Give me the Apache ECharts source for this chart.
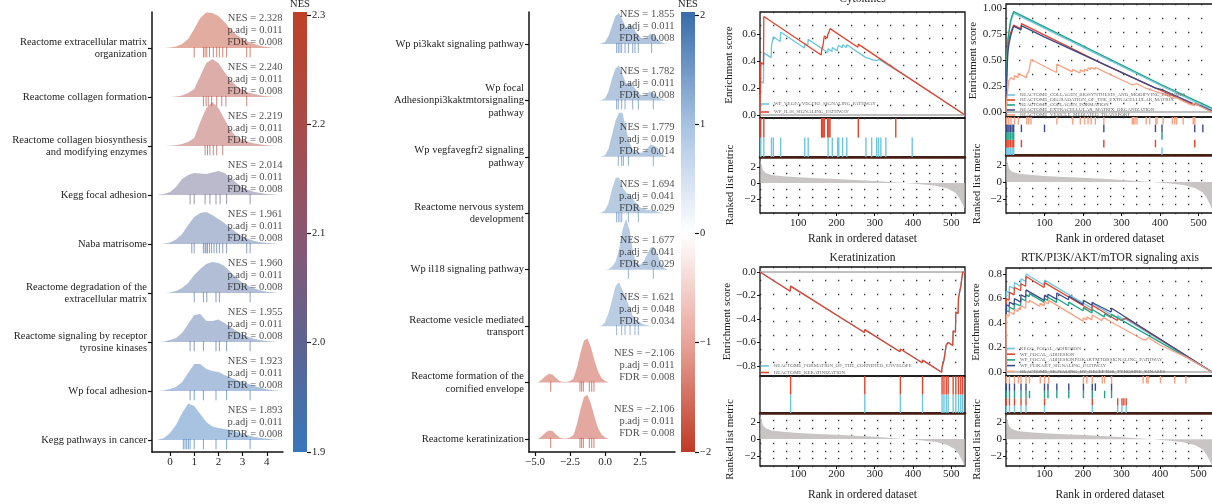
<!DOCTYPE html>
<html><head><meta charset="utf-8">
<script src="https://cdn.jsdelivr.net/npm/echarts@6.0.0/dist/echarts.min.js"></script>
<style>html,body{margin:0;padding:0;background:#fff}#c{width:1212px;height:504px}</style>
</head><body><div id="c"></div>
<script>
// ================= DATA =================
// ---- Panel A (ridge plot) ----
const catsA = ["Reactome extracellular matrix\norganization","Reactome collagen formation","Reactome collagen biosynthesis\nand modifying enzymes","Kegg focal adhesion","Naba matrisome","Reactome degradation of the\nextracellular matrix","Reactome signaling by receptor\ntyrosine kinases","Wp focal adhesion","Kegg pathways in cancer"];
const nesA  = [2.328,2.240,2.219,2.014,1.961,1.960,1.955,1.923,1.893];
const padjA = [0.011,0.011,0.011,0.011,0.011,0.011,0.011,0.011,0.011];
const fdrA  = [0.008,0.008,0.008,0.008,0.008,0.008,0.008,0.008,0.008];
const ridgeXA = [-0.5,-0.25,0,0.25,0.5,0.75,1,1.25,1.5,1.75,2,2.25,2.5,2.75,3,3.25,3.5,3.75,4,4.25,4.5];
const densA1 = [0,0,0.5,1.5,4,9,19,30,35.5,35,32,26,19,13,9,6,4,2,1,0.3,0];
const densA2 = [0,0,0,0.5,1.5,4,8,21,34,38,34,25,17,11,7,4.5,3,1.5,0.8,0.3,0];
const densA3 = [0,0,0.3,0.8,2,4,8,24,38,44,38,27,16,9,6,4,2.5,1.5,0.8,0.3,0];
const densA4 = [0.3,1,3,8,16,20,22,21.5,21,22.5,24,22,17,12,7.5,5,3,2,1,0.5,0.1];
const densA5 = [0,0.3,1.5,4.5,10,19,27,31,32,29,25,21,16,11.5,7.5,5,3,1.8,1,0.4,0];
const densA6 = [0,0,0.5,2,5,10,18,24,29,31,30,27,21,15,10,7,4.5,2.5,1.2,0.5,0];
const densA7 = [0,0.5,2,4,9,18,27,28,21,21,22.5,19,15,11,7.5,5,3,1.8,1,0.4,0];
const densA8 = [0,0.5,2,4,9,18,27,27,22,20,19,16,13.5,11,9,7,5,3,1.8,0.8,0.2];
const densA9 = [0.3,2,7,15,27,36.5,34,26,18,13.5,12,11,10,8,6,4.5,3,2,1.2,0.5,0.1];
const rugA1 = [1.0,1.38,1.45,1.52,1.63,1.79,1.93,2.04,2.18,2.34,3.17,3.31];
const rugA2 = [1.38,1.49,1.58,1.72,1.93,2.14,2.31,3.17];
const rugA3 = [1.45,1.55,1.65,1.79,1.93,2.18];
const rugA4 = [0.83,1.0,1.45,1.65,1.90,2.07,2.34,3.31];
const rugA5 = [0.9,1.0,1.38,1.45,1.49,1.55,1.63,1.72,1.82,1.93,2.04,2.18,2.34,3.17,3.31];
const rugA6 = [1.0,1.38,1.52,1.90,2.04,3.31];
const rugA7 = [0.83,1.0,1.38,1.90,2.04,2.34,3.31];
const rugA8 = [0.83,1.0,1.38,1.90,2.34,3.31];
const rugA9 = [0.55,0.62,0.69,0.76,0.83,1.0,1.38,1.90,2.34,3.31];
const xTicksA = [0,1,2,3,4];
const cbA_vals = [1.9,2.0,2.1,2.2,2.3];
const cbA_cols = ['#3877bb','#5d6391','#8a5670','#a84b49','#bf4128'];

// ---- Panel B (ridge plot) ----
const catsB = ["Wp pi3kakt signaling pathway","Wp focal\nAdhesionpi3kaktmtorsignaling\npathway","Wp vegfavegfr2 signaling\npathway","Reactome nervous system\ndevelopment","Wp il18 signaling pathway","Reactome vesicle mediated\ntransport","Reactome formation of the\ncornified envelope","Reactome keratinization"];
const nesB  = [1.855,1.782,1.779,1.694,1.677,1.621,-2.106,-2.106];
const padjB = [0.011,0.011,0.019,0.041,0.041,0.048,0.011,0.011];
const fdrB  = [0.008,0.008,0.014,0.029,0.029,0.034,0.008,0.008];
const ridgeXBblue = [-0.5,-0.25,0,0.25,0.5,0.75,1,1.25,1.5,1.75,2,2.25,2.5,2.75,3,3.25,3.5,3.75,4,4.25,4.5];
const ridgeXBred = [-5,-4.75,-4.5,-4.25,-4,-3.75,-3.5,-3.25,-3,-2.75,-2.5,-2.25,-2,-1.75,-1.5,-1.25,-1,-0.75,-0.5,-0.25,0,0.25];
const densB1 = [0,0.5,2,8,18,28,31,24,16,20,17,11,7,5,7,10.5,9,5,2,0.5,0];
const densB2 = [0,0.5,2,9,22,32,35,26,17,18,15,10,6,5,7,9,7,4,1.5,0.4,0];
const densB3 = [0,0.3,1.5,8,22,36,44,44,28,14,7,4.5,4,4.5,8,12,11,9,4,1,0];
const densB4 = [0,0.5,3,10,24,35,36,26,21,18,14,10,6,4.5,3.5,3,2.5,1.5,0.5,0.1,0];
const densB5 = [0,0,0,0.5,3,8,20,40,51,40,18,7,5,8,15,22,23,15,6,1.5,0];
const densB6 = [0,0.5,4,13,26,40,44,36,28,19,10,6,4,2,0.8,0.2,0,0,0,0,0];
const densB7 = [0,0.3,3,6.5,8.5,8,4.5,1.5,0.5,0.5,1.5,4,15,30,42,44,35,22,11,4.5,1.5,0.3];
const densB8 = [0,0.3,3,6.5,8.5,8,4.5,1.5,0.5,0.5,1.5,4,15,30,42,44,35,22,11,4.5,1.5,0.3];
const rugB1 = [0.83,0.95,1.07,1.19,1.43,1.67,1.98,2.14,2.38,3.33];
const rugB2 = [0.83,0.95,1.19,1.43,1.98,2.38,3.45];
const rugB3 = [0.95,1.19,1.31,1.67,3.45];
const rugB4 = [0.83,0.95,1.07,1.19,1.67,2.38];
const rugB5 = [1.67,3.45];
const rugB6 = [0.83,1.19,1.43,1.79,2.14,2.38];
const rugB7 = [-3.88,-1.79,-1.67,-1.55,-1.12,-0.95,-0.79];
const rugB8 = [-3.88,-1.79,-1.67,-1.55,-1.12,-0.95,-0.79];
const xTicksB = [-5,-2.5,0,2.5];
const cbB_vals = [-2,-1,0,1,2];
const cbB_cols = ['#bf3a26','#e8a398','#ffffff','#a7c2e2','#3a6eaa'];

// ---- GSEA shared ranked list metric ----
const rankX      = [1,3,8,15,30,60,100,150,200,250,300,350,380,420,460,490,510,520,528,535];
const rankMetric = [3.0,2.4,1.6,1.25,1.0,0.85,0.72,0.6,0.5,0.38,0.25,0.1,0.0,-0.15,-0.35,-0.7,-1.2,-1.8,-2.5,-3.2];
const rankTicks = [100,200,300,400,500];

// ---- Panel C: Cytokines ----
const esC_vegfa = [[0,0],[2,0.25],[9,0.235],[10,0.46],[29,0.425],[30,0.51],[34,0.5],[35,0.58],[53,0.545],[54,0.615],[116,0.497],[117,0.53],[125,0.515],[126,0.56],[177,0.463],[178,0.49],[188,0.47],[189,0.5],[202,0.475],[203,0.5],[205,0.495],[206,0.515],[215,0.498],[216,0.52],[226,0.5],[227,0.52],[276,0.427],[277,0.44],[291,0.413],[292,0.425],[304,0.402],[305,0.41],[309,0.402],[310,0.41],[315,0.4],[316,0.405],[328,0.382],[329,0.39],[397,0.261],[398,0.268],[536,0]];
const esC_il18 = [[0,0],[2,0.39],[9,0.375],[10,0.73],[160,0.445],[161,0.475],[162,0.473],[163,0.5],[164,0.498],[165,0.52],[167,0.516],[168,0.585],[176,0.57],[177,0.595],[179,0.59],[180,0.61],[182,0.606],[183,0.64],[256,0.502],[257,0.525],[354,0.34],[355,0.35],[536,0]];
const hitsC_vegfa = [2,10,30,35,54,117,126,178,189,203,206,216,227,277,292,305,310,316,329,398];
const hitsC_il18 = [2,10,161,163,165,168,177,180,183,257,355];

// ---- Panel D: extracellular matrix ----
const esD_biosyn = [[0,0],[2,0.43],[5,0.68],[8,0.765],[12,0.865],[16,0.91],[20,0.95],[404,0.25],[405,0.265],[535,0.02]];
const esD_degr = [[0,0],[2,0.45],[5,0.62],[8,0.7],[12,0.76],[16,0.8],[20,0.835],[39,0.8],[40,0.85],[253,0.46],[254,0.475],[387,0.232],[388,0.25],[489,0.065],[490,0.085],[535,0]];
const esD_form = [[0,0],[2,0.45],[5,0.7],[8,0.78],[12,0.88],[16,0.925],[20,0.965],[404,0.262],[405,0.28],[535,0.035]];
const esD_ecm = [[0,0],[2,0.35],[5,0.58],[8,0.66],[12,0.73],[16,0.78],[20,0.825],[39,0.79],[40,0.83],[99,0.722],[100,0.74],[253,0.46],[254,0.475],[387,0.232],[388,0.245],[404,0.216],[405,0.23],[489,0.075],[490,0.09],[510,0.053],[511,0.065],[535,0.01]];
const esD_vesicle = [[0,0],[2,0.12],[6,0.11],[7,0.3],[12,0.29],[13,0.33],[21,0.31],[22,0.35],[31,0.33],[32,0.37],[53,0.33],[54,0.36],[58,0.35],[59,0.39],[64,0.38],[65,0.505],[131,0.38],[132,0.46],[172,0.385],[173,0.41],[192,0.375],[193,0.405],[203,0.385],[204,0.41],[212,0.395],[213,0.425],[220,0.41],[221,0.43],[231,0.41],[232,0.43],[253,0.39],[254,0.40],[327,0.262],[328,0.268],[330,0.264],[331,0.27],[334,0.265],[335,0.272],[339,0.265],[340,0.272],[363,0.228],[364,0.234],[372,0.219],[373,0.225],[388,0.197],[389,0.203],[391,0.199],[392,0.205],[407,0.176],[408,0.182],[431,0.138],[432,0.144],[437,0.133],[438,0.139],[442,0.13],[443,0.136],[459,0.104],[460,0.11],[485,0.063],[486,0.085],[489,0.08],[490,0.102],[535,0]];
const hitsD_biosyn = [2,5,8,12,16,20,405];
const hitsD_degr = [2,5,8,12,16,20,40,254,388,490];
const hitsD_form = [2,5,8,12,16,20,405];
const hitsD_ecm = [2,5,8,12,16,20,40,100,254,388,405,490,511];
const hitsD_vesicle = [2,7,13,22,32,54,59,65,132,173,193,204,213,221,232,254,328,331,335,340,364,373,389,392,408,432,438,443,460,486,490];

// ---- Panel E: Keratinization ----
const esE_cornified = [[0,0],[79,-0.163],[80,-0.12],[273,-0.515],[274,-0.49],[366,-0.678],[367,-0.655],[424,-0.772],[425,-0.75],[475,-0.853],[476,-0.81],[480,-0.82],[481,-0.75],[486,-0.76],[487,-0.62],[491,-0.628],[492,-0.60],[504,-0.625],[505,-0.50],[511,-0.512],[512,-0.34],[518,-0.352],[519,-0.22],[524,-0.23],[525,-0.12],[529,-0.128],[530,0],[535,0]];
const esE_kerat = [[0,0],[79,-0.163],[80,-0.12],[273,-0.515],[274,-0.49],[366,-0.678],[367,-0.655],[424,-0.772],[425,-0.75],[475,-0.853],[476,-0.81],[480,-0.82],[481,-0.75],[486,-0.76],[487,-0.62],[491,-0.628],[492,-0.60],[504,-0.625],[505,-0.50],[511,-0.512],[512,-0.34],[518,-0.352],[519,-0.22],[524,-0.23],[525,-0.12],[529,-0.128],[530,0],[535,0]];
const hitsE = [80,274,367,425,476,481,487,492,505,512,519,525,530];

// ---- Panel F: RTK/PI3K/AKT/mTOR ----
const esF_kegg = [[0,0],[1,0.66],[8,0.645],[9,0.70],[21,0.68],[22,0.73],[38,0.70],[39,0.76],[51,0.74],[52,0.80],[99,0.71],[100,0.75],[223,0.52],[224,0.56],[289,0.44],[290,0.46],[300,0.44],[301,0.45],[311,0.43],[312,0.44],[535,0]];
const esF_wpfa = [[0,0],[1,0.6],[8,0.585],[9,0.65],[21,0.63],[22,0.69],[38,0.665],[39,0.72],[51,0.70],[52,0.78],[99,0.69],[100,0.73],[223,0.50],[224,0.545],[289,0.42],[290,0.44],[300,0.42],[301,0.43],[305,0.422],[306,0.432],[311,0.422],[312,0.44],[535,0]];
const esF_wpfapi3k = [[0,0],[1,0.5],[8,0.49],[9,0.53],[21,0.51],[22,0.56],[38,0.54],[39,0.6],[51,0.58],[52,0.63],[60,0.615],[61,0.64],[99,0.568],[100,0.6],[108,0.585],[109,0.61],[131,0.568],[132,0.6],[162,0.541],[163,0.57],[200,0.5],[201,0.525],[223,0.481],[224,0.51],[255,0.45],[256,0.475],[273,0.443],[274,0.47],[535,0]];
const esF_pi3kakt = [[0,0],[1,0.55],[8,0.535],[9,0.57],[21,0.55],[22,0.6],[38,0.57],[39,0.63],[51,0.61],[52,0.67],[99,0.585],[100,0.625],[108,0.61],[109,0.635],[131,0.595],[132,0.645],[162,0.59],[163,0.62],[200,0.55],[201,0.585],[223,0.545],[224,0.57],[231,0.555],[232,0.57],[273,0.49],[274,0.52],[535,0]];
const esF_rtk = [[0,0],[1,0.47],[8,0.455],[9,0.49],[21,0.47],[22,0.51],[31,0.495],[32,0.52],[38,0.51],[39,0.54],[51,0.52],[52,0.58],[60,0.565],[61,0.585],[88,0.535],[89,0.56],[99,0.54],[100,0.575],[110,0.555],[111,0.585],[200,0.415],[201,0.44],[209,0.425],[210,0.45],[223,0.425],[224,0.465],[249,0.418],[250,0.435],[255,0.425],[256,0.44],[273,0.408],[274,0.42],[355,0.265],[356,0.28],[364,0.263],[365,0.275],[368,0.268],[369,0.28],[400,0.22],[401,0.235],[437,0.165],[438,0.18],[466,0.125],[467,0.14],[535,0]];
const hitsF_kegg = [1,9,22,39,52,100,224,290,301,312];
const hitsF_wpfa = [1,9,22,39,52,100,224,290,301,306,312];
const hitsF_wpfapi3k = [1,9,22,39,52,61,100,109,132,163,201,224,256,274];
const hitsF_pi3kakt = [1,9,22,39,52,100,109,132,163,201,224,232,274];
const hitsF_rtk = [1,9,22,32,39,52,61,89,100,111,201,210,224,250,256,274,356,365,369,401,438,467];

// ================= HELPERS =================
const FONT = '"Liberation Serif","DejaVu Serif",serif';
const TXT = '#222';
const C_LB = '#6cc6e2', C_RED = '#e4432d', C_TEAL = '#1fa384', C_DB = '#3b4a8c', C_SAL = '#f8a183';
function hexToRgb(h){h=h.replace('#','');return [0,2,4].map(i=>parseInt(h.substr(i,2),16));}
function scaleColor(vals, cols, v){
  if (v <= vals[0]) return hexToRgb(cols[0]);
  if (v >= vals[vals.length-1]) return hexToRgb(cols[cols.length-1]);
  for (let i=0;i<vals.length-1;i++){
    if (v <= vals[i+1]) { const t=(v-vals[i])/(vals[i+1]-vals[i]); const a=hexToRgb(cols[i]), b=hexToRgb(cols[i+1]); return a.map((c,k)=>Math.round(c+(b[k]-c)*t)); }
  }
}
const rgba = (c,a) => `rgba(${c[0]},${c[1]},${c[2]},${a})`;
const minus = s => String(s).replace('-', '\u2212');

const option = {animation:false, backgroundColor:'#fff', textStyle:{fontFamily:FONT}, grid:[], xAxis:[], yAxis:[], series:[], legend:[], title:[]};
const push = (k,o) => { if (k==='grid') o.outerBoundsMode = 'none'; option[k].push(o); return option[k].length-1; };
const hiddenAxis = (g,min,max,extra) => Object.assign({type:'value', gridIndex:g, min, max, axisLine:{show:false,onZero:false}, axisTick:{show:false}, axisLabel:{show:false}, splitLine:{show:false}}, extra||{});
const dotsAxis = (g,n) => ({type:'value', gridIndex:g, min:0, max:n, interval:1, axisLine:{show:false,onZero:false}, axisTick:{show:false}, axisLabel:{show:false}, splitLine:{show:true, lineStyle:{color:'#333', width:1.3, type:[1.3,11.7]}}});
const lbl = (size, extra) => Object.assign({fontFamily:FONT, fontSize:size, color:TXT}, extra||{});

// ---------- ridge panel ----------
function ridgePanel(p){
  const n = p.cats.length;
  const bases = p.cats.map((c,i)=>n-i);
  const g = push('grid',{left:p.left, top:p.top, width:p.width, height:p.height});
  const xi = push('xAxis',{type:'value', gridIndex:g, min:p.xMin, max:p.xMax,
    axisLine:{show:true,onZero:false,lineStyle:{color:'#111',width:1.5}},
    axisTick:{show:true,length:4,customValues:p.xTicks,lineStyle:{color:'#111',width:1.2}},
    axisLabel:lbl(11,{customValues:p.xTicks, formatter:p.xFmt, margin:5}),
    splitLine:{show:false}});
  const yi = push('yAxis',{type:'value', gridIndex:g, min:p.yMin, max:p.yMax,
    axisLine:{show:true,onZero:false,lineStyle:{color:'#111',width:1.5}},
    axisTick:{show:true,length:4,customValues:bases,lineStyle:{color:'#111',width:1.2}},
    axisLabel:lbl(10.5,{customValues:bases, lineHeight:12.5, margin:5, formatter:v=>p.cats[n-Math.round(v)]}),
    splitLine:{show:false}});
  push('series',{type:'custom', xAxisIndex:xi, yAxisIndex:yi, silent:true,
    data: bases.map((b,i)=>[p.xs[i][0], b, i]), encode:{x:0,y:1},
    renderItem:(params, api)=>{
      const i = api.value(2), b = api.value(1);
      const xs = p.xs[i], d = p.dens[i];
      const col = scaleColor(p.cbVals, p.cbCols, p.nes[i]);
      const pts = [api.coord([xs[0], b])];
      xs.forEach((x,k)=>pts.push(api.coord([x, b + d[k]*p.hScale])));
      pts.push(api.coord([xs[xs.length-1], b]));
      const ch = [{type:'polygon', shape:{points:pts}, style:{fill:rgba(col,0.44)}}];
      p.rugs[i].forEach(x=>{
        const a = api.coord([x, b + p.rugUp]), c = api.coord([x, b - p.rugDown]);
        ch.push({type:'line', shape:{x1:a[0],y1:a[1],x2:c[0],y2:c[1]}, style:{stroke:rgba(col,0.65), lineWidth:1}});
      });
      return {type:'group', children:ch};
    }});
  push('series',{type:'scatter', xAxisIndex:xi, yAxisIndex:yi, silent:true, symbolSize:1, itemStyle:{color:'transparent'},
    data: bases.map((b,i)=>[p.xMax, b + p.textOff, i]),
    label:{show:true, position:'left', distance:0, fontFamily:FONT, fontSize:10.5, lineHeight:12, color:TXT,
      formatter: q => { const i=q.data[2]; return 'NES = '+minus(p.nes[i].toFixed(3))+'\np.adj = '+p.padj[i].toFixed(3)+'\nFDR = '+p.fdr[i].toFixed(3); }}, z:5});
}

// ---------- colorbar ----------
function colorbar(p){
  const g = push('grid',{left:p.left, top:p.top, width:p.width, height:p.height});
  const xi = push('xAxis', hiddenAxis(g,0,1));
  const yi = push('yAxis',{type:'value', gridIndex:g, position:'right', min:p.min, max:p.max,
    name:'NES', nameLocation:'end', nameGap:1, nameTextStyle:lbl(10.5,{padding:[0,p.width,0,0]}),
    axisLine:{show:false,onZero:false},
    axisTick:{show:true,length:4,customValues:p.ticks,lineStyle:{color:'#111',width:1.2}},
    axisLabel:lbl(10.5,{customValues:p.ticks, formatter:p.fmt, margin:5}),
    splitLine:{show:false}});
  push('series',{type:'custom', xAxisIndex:xi, yAxisIndex:yi, silent:true, data:[[0,p.min],[1,p.max]], encode:{x:0,y:1},
    renderItem:(params, api)=>{
      if (params.dataIndex !== 0) return null;
      const a = api.coord([0,p.max]), b = api.coord([1,p.min]);
      const stops = p.vals.map((v,i)=>({offset:Math.min(1,Math.max(0,(p.max-v)/(p.max-p.min))), color:p.cols[i]})).sort((s,t)=>s.offset-t.offset);
      return {type:'rect', shape:{x:a[0],y:a[1],width:b[0]-a[0],height:b[1]-a[1]}, style:{fill:new echarts.graphic.LinearGradient(0,0,0,1,stops)}};
    }});
}

// ---------- GSEA panel ----------
function gsea(p){
  const L=p.left, W=p.width, B='#111';
  const gE = push('grid',{left:L, top:p.es.top, width:W, height:p.es.height, show:true, borderColor:B, borderWidth:1.3});
  const xE = push('xAxis', hiddenAxis(gE,0,p.xMax, {position:'top', name:p.title.text, nameLocation:'middle', nameGap:p.title.gap,
    nameTextStyle:lbl(11.5)}));
  const yE = push('yAxis',{type:'value', gridIndex:gE, min:p.es.min, max:p.es.max,
    name:'Enrichment score', nameLocation:'middle', nameGap:p.es.nameGap, nameTextStyle:lbl(11),
    axisLine:{show:false,onZero:false},
    axisTick:{show:true,length:3,customValues:p.es.ticks,lineStyle:{color:B}},
    axisLabel:lbl(11,{customValues:p.es.ticks, margin:4, formatter:v=>minus(v.toFixed(p.es.dec))}),
    splitLine:{show:false}});
  push('yAxis', dotsAxis(gE,8));
  p.lines.forEach((ln,i)=>{
    const s = {type:'line', name:ln.name, xAxisIndex:xE, yAxisIndex:yE, data:ln.es, symbol:'none', showSymbol:false,
      lineStyle:{color:ln.color,width:1.3}, itemStyle:{color:ln.color}, z:3};
    if (i===0) s.markLine = {silent:true, symbol:'none', label:{show:false}, lineStyle:{color:'#aaa',width:1.6,type:'solid'}, data:[{yAxis:0}], z:2};
    push('series', s);
  });
  const gR = push('grid',{left:L, top:p.rug.top, width:W, height:p.rug.height, show:true, borderColor:B, borderWidth:1.3});
  const xR = push('xAxis', hiddenAxis(gR,0,p.xMax));
  const yR = push('yAxis', hiddenAxis(gR,0,p.lines.length));
  p.lines.forEach((ln,i)=> push('series',{type:'custom', xAxisIndex:xR, yAxisIndex:yR, silent:true,
    data: ln.hits.map(h=>[h,i]), encode:{x:0,y:1},
    renderItem:(params, api)=>{
      const a = api.coord([api.value(0), api.value(1)]), b = api.coord([api.value(0), api.value(1)+1]);
      return {type:'line', shape:{x1:a[0],y1:a[1],x2:b[0],y2:b[1]}, style:{stroke:ln.color, lineWidth:1.4}};
    }}));
  const gK = push('grid',{left:L, top:p.rank.top, width:W, height:p.rank.height, show:true, borderColor:B, borderWidth:1.3});
  const xK = push('xAxis',{type:'value', gridIndex:gK, min:0, max:p.xMax,
    name:'Rank in ordered dataset', nameLocation:'middle', nameGap:p.rank.nameGap, nameTextStyle:lbl(11.5),
    axisLine:{show:false,onZero:false},
    axisTick:{show:true,length:3,customValues:rankTicks,lineStyle:{color:B}},
    axisLabel:lbl(11,{customValues:rankTicks, margin:p.rank.labelMargin}),
    splitLine:{show:false}});
  push('xAxis',{type:'value', gridIndex:gK, position:'top', min:0, max:p.xMax,
    axisLine:{show:true,onZero:false,lineStyle:{color:'#4a1f14',width:2.5}}, axisTick:{show:false}, axisLabel:{show:false}, splitLine:{show:false}});
  const yK = push('yAxis',{type:'value', gridIndex:gK, min:p.rank.min, max:p.rank.max,
    name:'Ranked list metric', nameLocation:'middle', nameGap:p.rank.nameGap2, nameTextStyle:lbl(11),
    axisLine:{show:false,onZero:false},
    axisTick:{show:true,length:3,customValues:[-2,0,2],lineStyle:{color:B}},
    axisLabel:lbl(11,{customValues:[-2,0,2], margin:4, formatter:v=>minus(String(v))}),
    splitLine:{show:false}});
  push('yAxis', dotsAxis(gK,7));
  push('series',{type:'line', xAxisIndex:xK, yAxisIndex:yK, silent:true, data:rankX.map((r,i)=>[r,rankMetric[i]]),
    symbol:'none', showSymbol:false, lineStyle:{width:0}, areaStyle:{color:'#c9c5c5', opacity:1}, z:1});
  push('legend',{left:p.legend.left, top:p.legend.top, orient:'vertical', padding:0, itemGap:p.legend.gap,
    itemWidth:8, itemHeight:1.6, icon:'rect', selectedMode:false, data:p.lines.map(l=>l.name),
    textStyle:{fontFamily:FONT, fontSize:5, lineHeight:p.legend.lh, color:'#666'}});
}

// ================= BUILD =================
ridgePanel({cats:catsA, nes:nesA, padj:padjA, fdr:fdrA,
  xs:catsA.map(()=>ridgeXA), dens:[densA1,densA2,densA3,densA4,densA5,densA6,densA7,densA8,densA9],
  rugs:[rugA1,rugA2,rugA3,rugA4,rugA5,rugA6,rugA7,rugA8,rugA9],
  left:152, top:12, width:131, height:440, xMin:-0.744, xMax:4.669, yMin:0.755, yMax:9.735,
  xTicks:xTicksA, xFmt:v=>String(v), hScale:1/49, rugUp:0.02, rugDown:0.19, textOff:0.357,
  cbVals:cbA_vals, cbCols:cbA_cols});
colorbar({left:293, top:12, width:14, height:440, min:1.9, max:2.3027, ticks:[1.9,2.0,2.1,2.2,2.3], fmt:v=>v.toFixed(1), vals:cbA_vals, cols:cbA_cols});

ridgePanel({cats:catsB, nes:nesB, padj:padjB, fdr:fdrB,
  xs:[ridgeXBblue,ridgeXBblue,ridgeXBblue,ridgeXBblue,ridgeXBblue,ridgeXBblue,ridgeXBred,ridgeXBred],
  dens:[densB1,densB2,densB3,densB4,densB5,densB6,densB7,densB8],
  rugs:[rugB1,rugB2,rugB3,rugB4,rugB5,rugB6,rugB7,rugB8],
  left:529, top:12, width:146, height:440, xMin:-5.43, xMax:5.0, yMin:0.77, yMax:8.567,
  xTicks:xTicksB, xFmt:v=>minus(v.toFixed(1)), hScale:1/56.4, rugUp:0.02, rugDown:0.16, textOff:0.307,
  cbVals:cbB_vals, cbCols:cbB_cols});
colorbar({left:681, top:12, width:14, height:440, min:-2.0, max:2.027, ticks:[-2,-1,0,1,2], fmt:v=>minus(String(v)), vals:cbB_vals, cols:cbB_cols});

gsea({left:760, width:205, xMax:536,
  es:{top:12, height:106, min:-0.022, max:0.763, ticks:[0,0.2,0.4,0.6], dec:1, nameGap:25},
  rug:{top:118, height:39},
  rank:{top:157, height:56, min:-3.75, max:3.25, nameGap:20, nameGap2:24, labelMargin:5},
  title:{text:'Cytokines', gap:7},
  legend:{left:761, top:101, lh:6, gap:2},
  lines:[{name:'WP_VEGFA/VEGFR2_SIGNALING_PATHWAY', color:C_LB, es:esC_vegfa, hits:hitsC_vegfa},
         {name:'WP_IL18_SIGNALING_PATHWAY', color:C_RED, es:esC_il18, hits:hitsC_il18}]});

gsea({left:1006, width:208, xMax:540,
  es:{top:4, height:113, min:-0.048, max:1.038, ticks:[0,0.25,0.5,0.75,1], dec:2, nameGap:22},
  rug:{top:117, height:38},
  rank:{top:155, height:58, min:-3.65, max:3.18, nameGap:20, nameGap2:23, labelMargin:5},
  title:{text:'Extracellular matrix (ECM) remodeling', gap:5},
  legend:{left:1007, top:92.5, lh:4.5, gap:0},
  lines:[{name:'REACTOME_COLLAGEN_BIOSYNTHESIS_AND_MODIFYING_ENZYMES', color:C_LB, es:esD_biosyn, hits:hitsD_biosyn},
         {name:'REACTOME_DEGRADATION_OF_THE_EXTRACELLULAR_MATRIX', color:C_RED, es:esD_degr, hits:hitsD_degr},
         {name:'REACTOME_COLLAGEN_FORMATION', color:C_TEAL, es:esD_form, hits:hitsD_form},
         {name:'REACTOME_EXTRACELLULAR_MATRIX_ORGANIZATION', color:C_DB, es:esD_ecm, hits:hitsD_ecm},
         {name:'REACTOME_VESICLE_MEDIATED_TRANSPORT', color:C_SAL, es:esD_vesicle, hits:hitsD_vesicle}]});

gsea({left:760, width:205, xMax:536,
  es:{top:267, height:109, min:-0.885, max:0.043, ticks:[-0.8,-0.6,-0.4,-0.2,0], dec:1, nameGap:25},
  rug:{top:376, height:37},
  rank:{top:413, height:53, min:-3.18, max:3.06, nameGap:23, nameGap2:24, labelMargin:3},
  title:{text:'Keratinization', gap:3},
  legend:{left:761, top:363, lh:6, gap:0.5},
  lines:[{name:'REACTOME_FORMATION_OF_THE_CORNIFIED_ENVELOPE', color:C_LB, es:esE_cornified, hits:hitsE},
         {name:'REACTOME_KERATINIZATION', color:C_RED, es:esE_kerat, hits:hitsE}]});

gsea({left:1006, width:208, xMax:540,
  es:{top:268, height:108, min:-0.033, max:0.849, ticks:[0,0.2,0.4,0.6,0.8], dec:1, nameGap:24},
  rug:{top:376, height:37},
  rank:{top:413, height:53, min:-3.21, max:3.15, nameGap:23, nameGap2:23, labelMargin:3},
  title:{text:'RTK/PI3K/AKT/mTOR signaling axis', gap:4},
  legend:{left:1007, top:346, lh:5, gap:0.7},
  lines:[{name:'KEGG_FOCAL_ADHESION', color:C_LB, es:esF_kegg, hits:hitsF_kegg},
         {name:'WP_FOCAL_ADHESION', color:C_RED, es:esF_wpfa, hits:hitsF_wpfa},
         {name:'WP_FOCAL_ADHESIONPI3KAKTMTORSIGNALING_PATHWAY', color:C_TEAL, es:esF_wpfapi3k, hits:hitsF_wpfapi3k},
         {name:'WP_PI3KAKT_SIGNALING_PATHWAY', color:C_DB, es:esF_pi3kakt, hits:hitsF_pi3kakt},
         {name:'REACTOME_SIGNALING_BY_RECEPTOR_TYROSINE_KINASES', color:C_SAL, es:esF_rtk, hits:hitsF_rtk}]});

const chart = echarts.init(document.getElementById('c'), null, {renderer:'canvas'});
chart.setOption(option);
</script>
</body></html>
